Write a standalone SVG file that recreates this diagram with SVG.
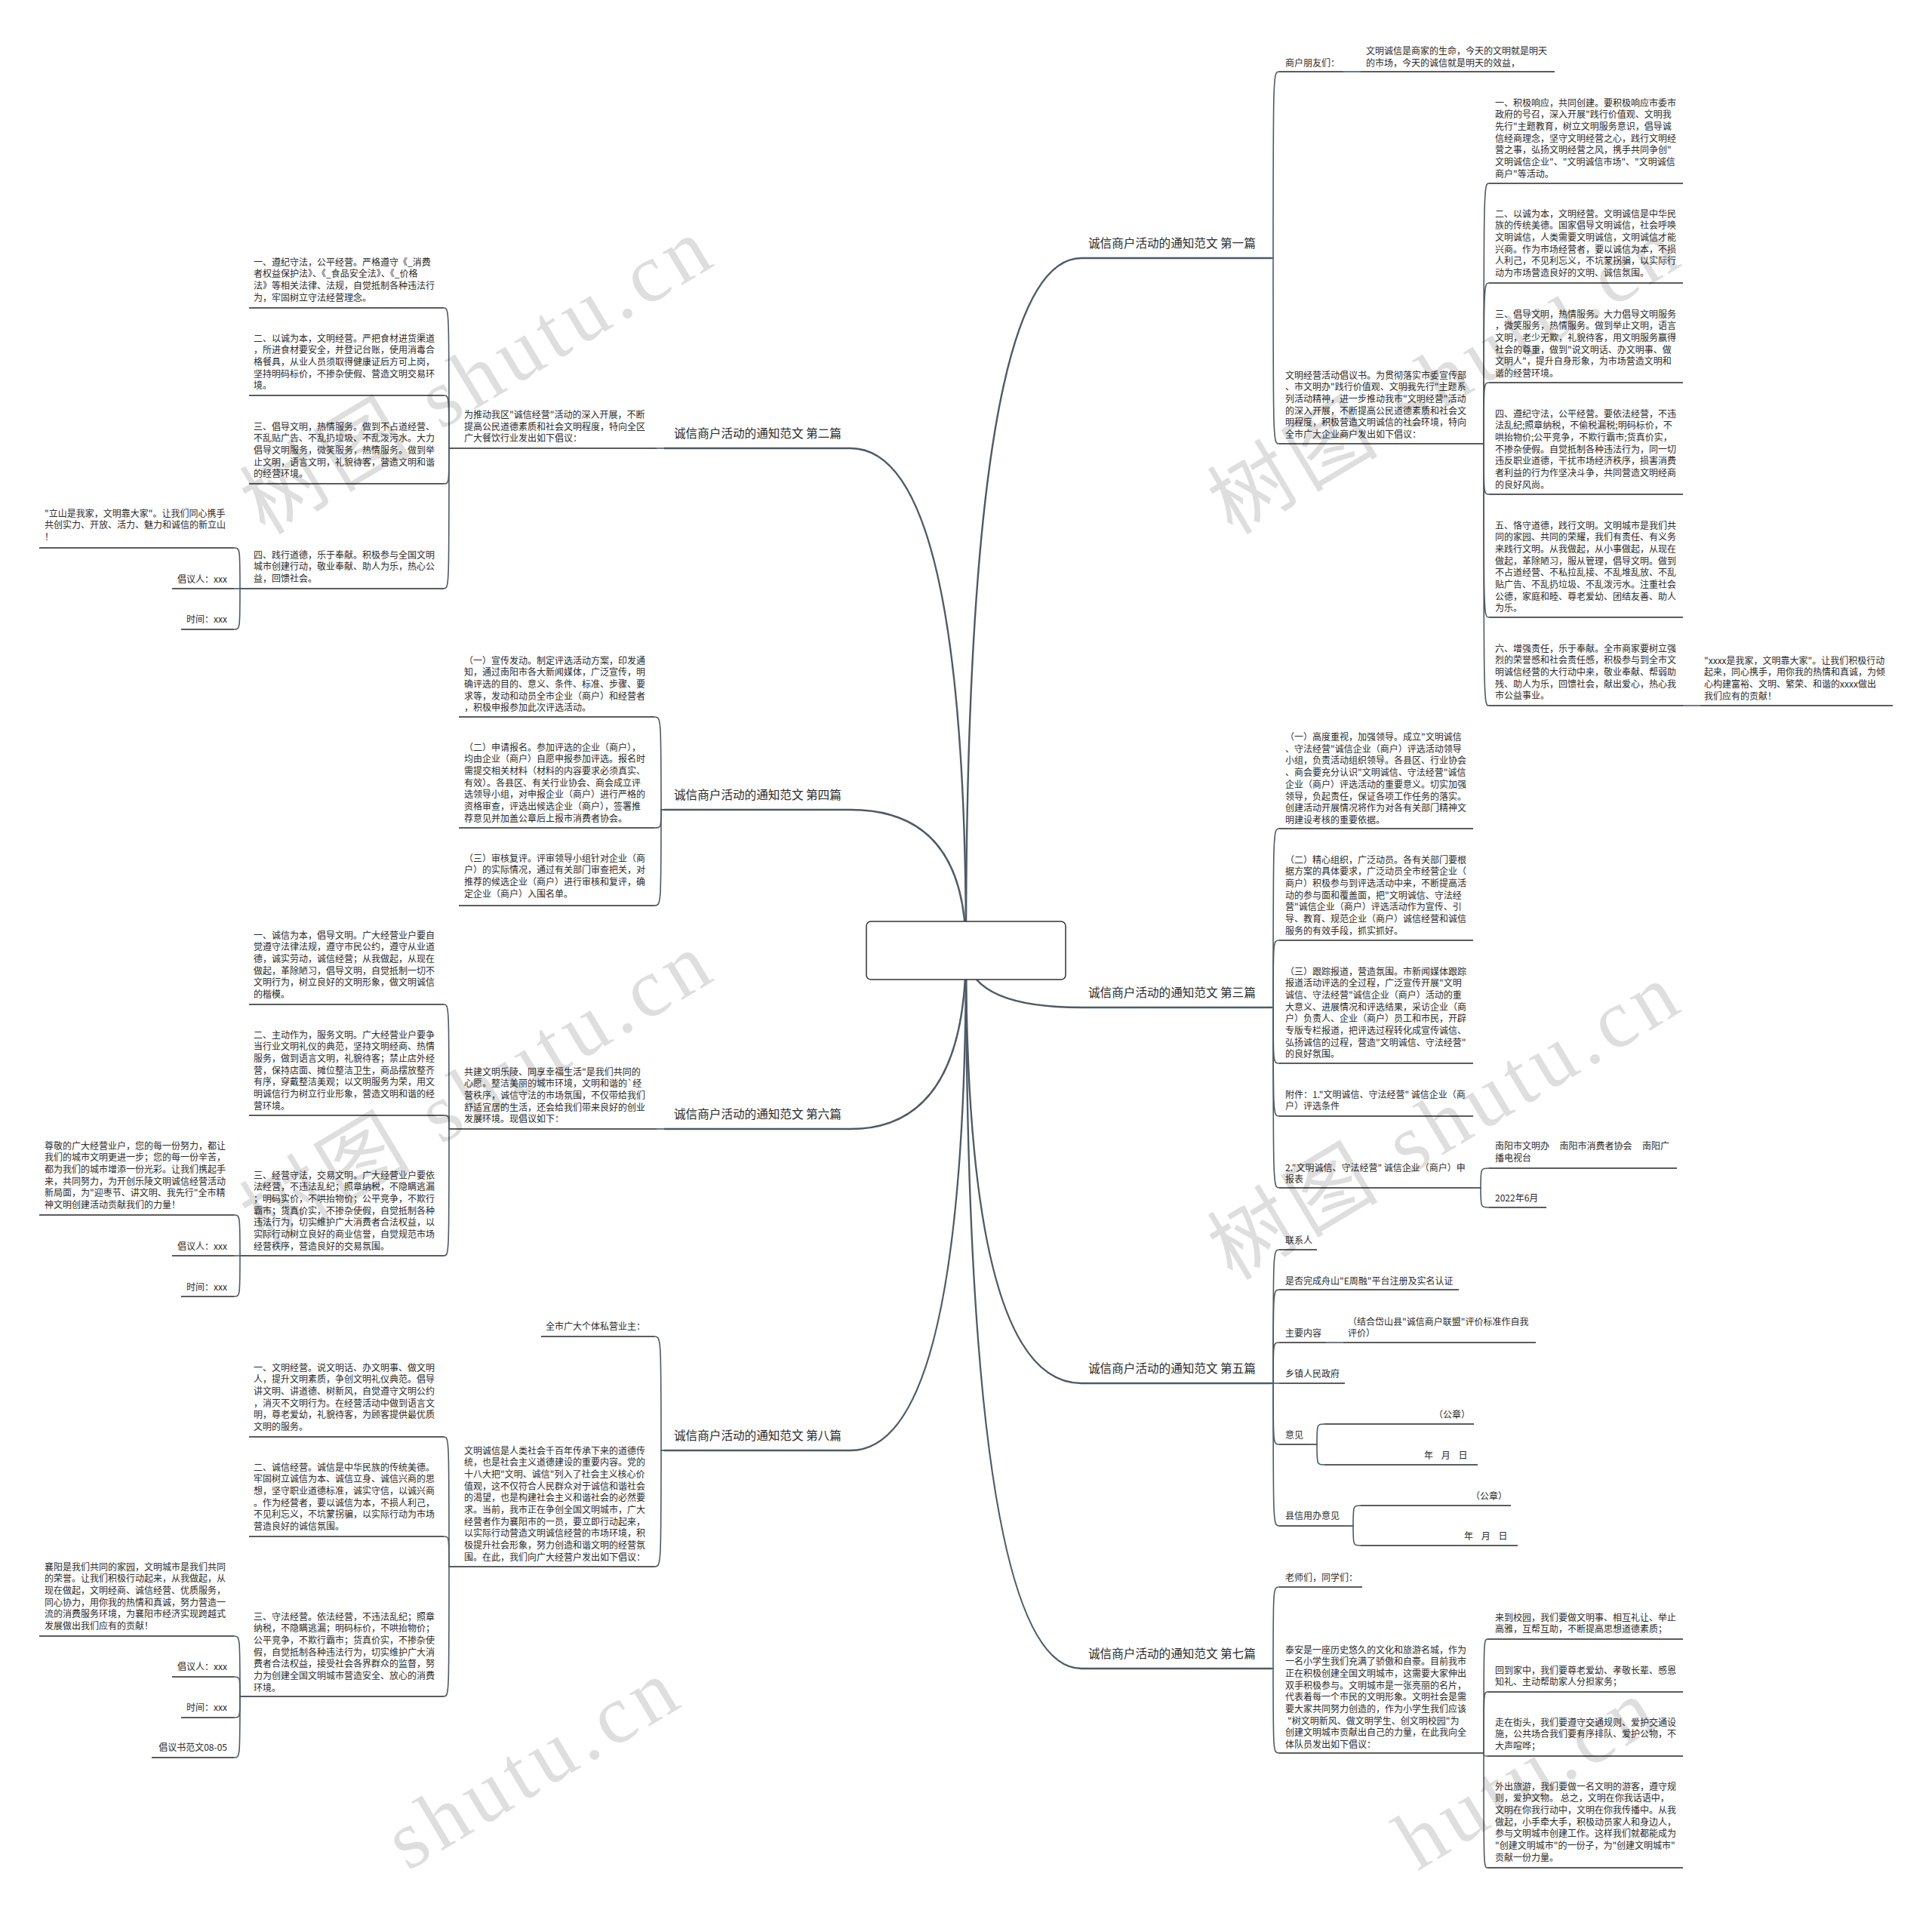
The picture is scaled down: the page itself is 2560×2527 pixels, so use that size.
<svg xmlns="http://www.w3.org/2000/svg" width="2560" height="2527" viewBox="0 0 2560 2527">
<style>
text{font-family:"Noto Sans CJK SC","Noto Sans",sans-serif;}
.t{font-size:12px;fill:#2b2b2b}
.lb{font-size:15.6px;fill:#2b2b2b}
.u{stroke:#262626;stroke-width:1.6;fill:none}
.c{stroke:#4d5b64;stroke-width:1.6;fill:none}
.m{stroke:#4d5b64;stroke-width:2.4;fill:none}
.wm{font-family:"Liberation Serif","Noto Sans CJK SC",serif;font-size:110px;letter-spacing:8px;fill:#000;fill-opacity:0.13}
</style>
<rect width="2560" height="2527" fill="#fff"/>

<g id="connectors">
  <path class="m" d="M1280,1259 Q1280,342 1433,342 H1685"/>
  <path class="m" d="M1280,1259 Q1280,1335 1433,1335 H1685"/>
  <path class="m" d="M1280,1259 Q1280,1833 1433,1833 H1685"/>
  <path class="m" d="M1280,1259 Q1280,2211 1433,2211 H1685"/>
  <path class="m" d="M1280,1259 Q1280,594 1127,594 H880"/>
  <path class="m" d="M1280,1259 Q1280,1073 1127,1073 H880"/>
  <path class="m" d="M1280,1259 Q1280,1496 1127,1496 H880"/>
  <path class="m" d="M1280,1259 Q1280,1922 1127,1922 H880"/>

  <path class="c" d="M1685,342 L1687,342 C1687,95 1687,95 1695,95"/>
  <path class="c" d="M1685,342 L1687,342 C1687,588 1687,588 1695,588"/>
  <path class="c" d="M1780,95 L1803,95"/>
  <path class="c" d="M1963,588 L1966,588 C1966,243 1966,243 1973,243"/>
  <path class="c" d="M1963,588 L1966,588 C1966,375 1966,375 1973,375"/>
  <path class="c" d="M1963,588 L1966,588 C1966,507 1966,507 1973,507"/>
  <path class="c" d="M1963,588 L1966,588 C1966,655 1966,655 1973,655"/>
  <path class="c" d="M1963,588 L1966,588 C1966,818 1966,818 1973,818"/>
  <path class="c" d="M1963,588 L1966,588 C1966,935 1966,935 1973,935"/>
  <path class="c" d="M2230,935 L2253,935"/>

  <path class="c" d="M1685,1335 L1687,1335 C1687,1098 1687,1098 1695,1098"/>
  <path class="c" d="M1685,1335 L1687,1335 C1687,1246 1687,1246 1695,1246"/>
  <path class="c" d="M1685,1335 L1687,1335 C1687,1409 1687,1409 1695,1409"/>
  <path class="c" d="M1685,1335 L1687,1335 C1687,1479 1687,1479 1695,1479"/>
  <path class="c" d="M1685,1335 L1687,1335 C1687,1574 1687,1574 1695,1574"/>
  <path class="c" d="M1952,1574 L1962,1574 C1962,1548 1962,1548 1973,1548"/>
  <path class="c" d="M1952,1574 L1962,1574 C1962,1600 1962,1600 1973,1600"/>

  <path class="c" d="M1685,1833 L1687,1833 C1687,1656 1687,1656 1695,1656"/>
  <path class="c" d="M1685,1833 L1687,1833 C1687,1709 1687,1709 1695,1709"/>
  <path class="c" d="M1685,1833 L1687,1833 C1687,1779 1687,1779 1695,1779"/>
  <path class="c" d="M1685,1833 L1695,1833"/>
  <path class="c" d="M1685,1833 L1687,1833 C1687,1914 1687,1914 1695,1914"/>
  <path class="c" d="M1685,1833 L1687,1833 C1687,2022 1687,2022 1695,2022"/>
  <path class="c" d="M1757,1779 L1780,1779"/>
  <path class="c" d="M1733,1914 L1745,1914 C1745,1887 1745,1887 1755,1887"/>
  <path class="c" d="M1733,1914 L1745,1914 C1745,1941 1745,1941 1755,1941"/>
  <path class="c" d="M1782,2022 L1793,2022 C1793,1995 1793,1995 1803,1995"/>
  <path class="c" d="M1782,2022 L1793,2022 C1793,2048 1793,2048 1803,2048"/>

  <path class="c" d="M1685,2211 L1687,2211 C1687,2103 1687,2103 1695,2103"/>
  <path class="c" d="M1685,2211 L1687,2211 C1687,2323 1687,2323 1695,2323"/>
  <path class="c" d="M1964,2323 L1966,2323 C1966,2172 1966,2172 1971,2172"/>
  <path class="c" d="M1964,2323 L1966,2323 C1966,2242 1966,2242 1971,2242"/>
  <path class="c" d="M1964,2323 L1966,2323 C1966,2327 1966,2327 1971,2327"/>
  <path class="c" d="M1964,2323 L1966,2323 C1966,2475 1966,2475 1971,2475"/>

  <path class="c" d="M880,594 L870,594"/>
  <path class="c" d="M600,594 L595,594 C595,408 595,408 588,408"/>
  <path class="c" d="M600,594 L595,594 C595,524 595,524 588,524"/>
  <path class="c" d="M600,594 L595,594 C595,641 595,641 588,641"/>
  <path class="c" d="M600,594 L595,594 C595,780 595,780 588,780"/>
  <path class="c" d="M330,780 L318,780 C318,726 318,726 310,726"/>
  <path class="c" d="M330,780 L310,780"/>
  <path class="c" d="M330,780 L318,780 C318,834 318,834 310,834"/>

  <path class="c" d="M880,1073 L876,1073 C876,950 876,950 867,950"/>
  <path class="c" d="M880,1073 L876,1073 C876,1097 876,1097 867,1097"/>
  <path class="c" d="M880,1073 L876,1073 C876,1200 876,1200 867,1200"/>

  <path class="c" d="M880,1496 L870,1496"/>
  <path class="c" d="M600,1496 L595,1496 C595,1331 595,1331 588,1331"/>
  <path class="c" d="M600,1496 L595,1496 C595,1478 595,1478 588,1478"/>
  <path class="c" d="M600,1496 L595,1496 C595,1664 595,1664 588,1664"/>
  <path class="c" d="M330,1664 L318,1664 C318,1610 318,1610 310,1610"/>
  <path class="c" d="M330,1664 L310,1664"/>
  <path class="c" d="M330,1664 L318,1664 C318,1718 318,1718 310,1718"/>

  <path class="c" d="M880,1922 L876,1922 C876,1771 876,1771 867,1771"/>
  <path class="c" d="M880,1922 L876,1922 C876,2076 876,2076 867,2076"/>
  <path class="c" d="M600,2076 L595,2076 C595,1904 595,1904 588,1904"/>
  <path class="c" d="M600,2076 L595,2076 C595,2036 595,2036 588,2036"/>
  <path class="c" d="M600,2076 L595,2076 C595,2248 595,2248 588,2248"/>
  <path class="c" d="M330,2248 L318,2248 C318,2168 318,2168 310,2168"/>
  <path class="c" d="M330,2248 L318,2248 C318,2222 318,2222 310,2222"/>
  <path class="c" d="M330,2248 L318,2248 C318,2276 318,2276 310,2276"/>
  <path class="c" d="M330,2248 L318,2248 C318,2329 318,2329 310,2329"/>
</g>

<g id="center">
  <rect x="1148" y="1221" width="264" height="77" rx="6" fill="#fff" stroke="#333" stroke-width="1.5"/>
</g>

<g id="b1"><text class="lb" x="1442" y="328">诚信商户活动的通知范文 第一篇</text></g>
<g id="b3"><text class="lb" x="1442" y="1321">诚信商户活动的通知范文 第三篇</text></g>
<g id="b5"><text class="lb" x="1442" y="1819">诚信商户活动的通知范文 第五篇</text></g>
<g id="b7"><text class="lb" x="1442" y="2197">诚信商户活动的通知范文 第七篇</text></g>
<g id="b2"><text class="lb" x="893" y="580">诚信商户活动的通知范文 第二篇</text></g>
<g id="b4"><text class="lb" x="893" y="1059">诚信商户活动的通知范文 第四篇</text></g>
<g id="b6"><text class="lb" x="893" y="1482">诚信商户活动的通知范文 第六篇</text></g>
<g id="b8"><text class="lb" x="893" y="1908">诚信商户活动的通知范文 第八篇</text></g>

<g id="n1a"><text class="t" x="1703" y="87.5">商户朋友们：</text><path class="u" d="M1695,95 H1780"/></g>
<g id="n1b"><text class="t" x="1810" y="71.5"><tspan x="1810">文明诚信是商家的生命，今天的文明就是明天</tspan><tspan x="1810" dy="16">的市场，今天的诚信就是明天的效益，</tspan></text><path class="u" d="M1803,95 H2060"/></g>
<g id="n1c"><text class="t" x="1703" y="501.5"><tspan x="1703">文明经营活动倡议书。为贯彻落实市委宣传部</tspan><tspan x="1703" dy="15.7">、市文明办"践行价值观、文明我先行"主题系</tspan><tspan x="1703" dy="15.7">列活动精神，进一步推动我市"文明经营"活动</tspan><tspan x="1703" dy="15.7">的深入开展，不断提高公民道德素质和社会文</tspan><tspan x="1703" dy="15.7">明程度，积极营造文明诚信的社会环境，特向</tspan><tspan x="1703" dy="15.7">全市广大企业商户发出如下倡议：</tspan></text><path class="u" d="M1695,588 H1963"/></g>
<g id="n1i1"><text class="t" x="1981" y="140.5"><tspan x="1981">一、积极响应，共同创建。要积极响应市委市</tspan><tspan x="1981" dy="15.7">政府的号召，深入开展"践行价值观、文明我</tspan><tspan x="1981" dy="15.7">先行"主题教育，树立文明服务意识，倡导诚</tspan><tspan x="1981" dy="15.7">信经商理念，坚守文明经营之心，践行文明经</tspan><tspan x="1981" dy="15.7">营之事，弘扬文明经营之风，携手共同争创"</tspan><tspan x="1981" dy="15.7">文明诚信企业"、"文明诚信市场"、"文明诚信</tspan><tspan x="1981" dy="15.7">商户"等活动。</tspan></text><path class="u" d="M1973,243 H2230"/></g>
<g id="n1i2"><text class="t" x="1981" y="287.5"><tspan x="1981">二、以诚为本，文明经营。文明诚信是中华民</tspan><tspan x="1981" dy="15.7">族的传统美德。国家倡导文明诚信，社会呼唤</tspan><tspan x="1981" dy="15.7">文明诚信，人类需要文明诚信，文明诚信才能</tspan><tspan x="1981" dy="15.7">兴商。作为市场经营者，要以诚信为本，不损</tspan><tspan x="1981" dy="15.7">人利己，不见利忘义，不坑蒙拐骗，以实际行</tspan><tspan x="1981" dy="15.7">动为市场营造良好的文明、诚信氛围。</tspan></text><path class="u" d="M1973,375 H2230"/></g>
<g id="n1i3"><text class="t" x="1981" y="420.5"><tspan x="1981">三、倡导文明，热情服务。大力倡导文明服务</tspan><tspan x="1981" dy="15.7">，微笑服务，热情服务。做到举止文明，语言</tspan><tspan x="1981" dy="15.7">文明，老少无欺，礼貌待客，用文明服务赢得</tspan><tspan x="1981" dy="15.7">社会的尊重，做到"说文明话、办文明事、做</tspan><tspan x="1981" dy="15.7">文明人"，提升自身形象，为市场营造文明和</tspan><tspan x="1981" dy="15.7">谐的经营环境。</tspan></text><path class="u" d="M1973,507 H2230"/></g>
<g id="n1i4"><text class="t" x="1981" y="552.5"><tspan x="1981">四、遵纪守法，公平经营。要依法经营，不违</tspan><tspan x="1981" dy="15.7">法乱纪;照章纳税，不偷税漏税;明码标价，不</tspan><tspan x="1981" dy="15.7">哄抬物价;公平竞争，不欺行霸市;货真价实，</tspan><tspan x="1981" dy="15.7">不掺杂使假。自觉抵制各种违法行为，同一切</tspan><tspan x="1981" dy="15.7">违反职业道德，干扰市场经济秩序，损害消费</tspan><tspan x="1981" dy="15.7">者利益的行为作坚决斗争，共同营造文明经商</tspan><tspan x="1981" dy="15.7">的良好风尚。</tspan></text><path class="u" d="M1973,655 H2230"/></g>
<g id="n1i5"><text class="t" x="1981" y="700.5"><tspan x="1981">五、恪守道德，践行文明。文明城市是我们共</tspan><tspan x="1981" dy="15.7">同的家园、共同的荣耀，我们有责任、有义务</tspan><tspan x="1981" dy="15.7">来践行文明。从我做起，从小事做起，从现在</tspan><tspan x="1981" dy="15.7">做起，革除陋习，服从管理，倡导文明。做到</tspan><tspan x="1981" dy="15.7">不占道经营、不私拉乱接、不乱堆乱放、不乱</tspan><tspan x="1981" dy="15.7">贴广告、不乱扔垃圾、不乱泼污水。注重社会</tspan><tspan x="1981" dy="15.7">公德，家庭和睦、尊老爱幼、团结友善、助人</tspan><tspan x="1981" dy="15.7">为乐。</tspan></text><path class="u" d="M1973,818 H2230"/></g>
<g id="n1i6"><text class="t" x="1981" y="863.5"><tspan x="1981">六、增强责任，乐于奉献。全市商家要树立强</tspan><tspan x="1981" dy="15.7">烈的荣誉感和社会责任感，积极参与到全市文</tspan><tspan x="1981" dy="15.7">明诚信经营的大行动中来，敬业奉献、帮弱助</tspan><tspan x="1981" dy="15.7">残、助人为乐，回馈社会，献出爱心，热心我</tspan><tspan x="1981" dy="15.7">市公益事业。</tspan></text><path class="u" d="M1973,935 H2230"/></g>
<g id="n1i6a"><text class="t" x="2258" y="879.5"><tspan x="2258">"xxxx是我家，文明靠大家"。让我们积极行动</tspan><tspan x="2258" dy="15.7">起来，同心携手，用你我的热情和真诚，为倾</tspan><tspan x="2258" dy="15.7">心构建富裕、文明、繁荣、和谐的xxxx做出</tspan><tspan x="2258" dy="15.7">我们应有的贡献！</tspan></text><path class="u" d="M2253,935 H2508"/></g>

<g id="n3a"><text class="t" x="1703" y="981"><tspan x="1703">（一）高度重视，加强领导。成立"文明诚信</tspan><tspan x="1703" dy="15.7">、守法经营"诚信企业（商户）评选活动领导</tspan><tspan x="1703" dy="15.7">小组，负责活动组织领导。各县区、行业协会</tspan><tspan x="1703" dy="15.7">、商会要充分认识"文明诚信、守法经营"诚信</tspan><tspan x="1703" dy="15.7">企业（商户）评选活动的重要意义。切实加强</tspan><tspan x="1703" dy="15.7">领导，负起责任，保证各项工作任务的落实。</tspan><tspan x="1703" dy="15.7">创建活动开展情况将作为对各有关部门精神文</tspan><tspan x="1703" dy="15.7">明建设考核的重要依据。</tspan></text><path class="u" d="M1695,1098 H1952"/></g>
<g id="n3b"><text class="t" x="1703" y="1143.5"><tspan x="1703">（二）精心组织，广泛动员。各有关部门要根</tspan><tspan x="1703" dy="15.7">据方案的具体要求，广泛动员全市经营企业（</tspan><tspan x="1703" dy="15.7">商户）积极参与到评选活动中来，不断提高活</tspan><tspan x="1703" dy="15.7">动的参与面和覆盖面，把"文明诚信、守法经</tspan><tspan x="1703" dy="15.7">营"诚信企业（商户）评选活动作为宣传、引</tspan><tspan x="1703" dy="15.7">导、教育、规范企业（商户）诚信经营和诚信</tspan><tspan x="1703" dy="15.7">服务的有效手段，抓实抓好。</tspan></text><path class="u" d="M1695,1246 H1952"/></g>
<g id="n3c"><text class="t" x="1703" y="1291.5"><tspan x="1703">（三）跟踪报道，营造氛围。市新闻媒体跟踪</tspan><tspan x="1703" dy="15.7">报道活动评选的全过程，广泛宣传开展"文明</tspan><tspan x="1703" dy="15.7">诚信、守法经营"诚信企业（商户）活动的重</tspan><tspan x="1703" dy="15.7">大意义、进展情况和评选结果，采访企业（商</tspan><tspan x="1703" dy="15.7">户）负责人、企业（商户）员工和市民，开辟</tspan><tspan x="1703" dy="15.7">专版专栏报道，把评选过程转化成宣传诚信、</tspan><tspan x="1703" dy="15.7">弘扬诚信的过程，营造"文明诚信、守法经营"</tspan><tspan x="1703" dy="15.7">的良好氛围。</tspan></text><path class="u" d="M1695,1409 H1952"/></g>
<g id="n3d"><text class="t" x="1703" y="1454.5"><tspan x="1703">附件：1."文明诚信、守法经营" 诚信企业（商</tspan><tspan x="1703" dy="15.7">户）评选条件</tspan></text><path class="u" d="M1695,1479 H1952"/></g>
<g id="n3e"><text class="t" x="1703" y="1551.5"><tspan x="1703">2."文明诚信、守法经营" 诚信企业（商户）申</tspan><tspan x="1703" dy="15.7">报表</tspan></text><path class="u" d="M1695,1574 H1952"/></g>
<g id="n3e1"><text class="t" x="1981" y="1523" xml:space="preserve"><tspan x="1981">南阳市文明办     南阳市消费者协会     南阳广</tspan><tspan x="1981" dy="15.7">播电视台</tspan></text><path class="u" d="M1973,1548 H2222"/></g>
<g id="n3e2"><text class="t" x="1981" y="1591.5">2022年6月</text><path class="u" d="M1973,1600 H2049"/></g>

<g id="n5a"><text class="t" x="1703" y="1647.5">联系人</text><path class="u" d="M1695,1656 H1745"/></g>
<g id="n5b"><text class="t" x="1703" y="1701.5">是否完成舟山"E周融"平台注册及实名认证</text><path class="u" d="M1695,1709 H1933"/></g>
<g id="n5c"><text class="t" x="1703" y="1770.5">主要内容</text><path class="u" d="M1695,1779 H1757"/></g>
<g id="n5c1"><text class="t" x="1786" y="1755.5"><tspan x="1786">（结合岱山县"诚信商户联盟"评价标准作自我</tspan><tspan x="1786" dy="15.7">评价）</tspan></text><path class="u" d="M1780,1779 H2035"/></g>
<g id="n5d"><text class="t" x="1703" y="1824.5">乡镇人民政府</text><path class="u" d="M1695,1833 H1782"/></g>
<g id="n5e"><text class="t" x="1703" y="1905.5">意见</text><path class="u" d="M1695,1914 H1733"/></g>
<g id="n5e1"><text class="t" x="1900" y="1878.5">（公章）</text><path class="u" d="M1755,1887 H1953"/></g>
<g id="n5e2"><text class="t" x="1887" y="1932.5" xml:space="preserve">年    月    日</text><path class="u" d="M1755,1941 H1958"/></g>
<g id="n5f"><text class="t" x="1703" y="2012.5">县信用办意见</text><path class="u" d="M1695,2022 H1782"/></g>
<g id="n5f1"><text class="t" x="1949" y="1986.5">（公章）</text><path class="u" d="M1803,1995 H2002"/></g>
<g id="n5f2"><text class="t" x="1940" y="2039.5" xml:space="preserve">年    月    日</text><path class="u" d="M1803,2048 H2011"/></g>

<g id="n7a"><text class="t" x="1703" y="2094.5">老师们，同学们：</text><path class="u" d="M1695,2103 H1805"/></g>
<g id="n7b"><text class="t" x="1703" y="2190.5"><tspan x="1703">泰安是一座历史悠久的文化和旅游名城，作为</tspan><tspan x="1703" dy="15.7">一名小学生我们充满了骄傲和自豪。目前我市</tspan><tspan x="1703" dy="15.7">正在积极创建全国文明城市，这需要大家伸出</tspan><tspan x="1703" dy="15.7">双手积极参与。文明城市是一张亮丽的名片，</tspan><tspan x="1703" dy="15.7">代表着每一个市民的文明形象。文明社会是需</tspan><tspan x="1703" dy="15.7">要大家共同努力创造的，作为小学生我们应该</tspan><tspan x="1706" dy="15.7">"树文明新风、做文明学生、创文明校园"为</tspan><tspan x="1703" dy="15.7">创建文明城市贡献出自己的力量，在此我向全</tspan><tspan x="1703" dy="15.7">体队员发出如下倡议：</tspan></text><path class="u" d="M1695,2323 H1964"/></g>
<g id="n7b1"><text class="t" x="1981" y="2147.5"><tspan x="1981">来到校园，我们要做文明事、相互礼让、举止</tspan><tspan x="1981" dy="15.7">高雅，互帮互助，不断提高思想道德素质；</tspan></text><path class="u" d="M1971,2172 H2230"/></g>
<g id="n7b2"><text class="t" x="1981" y="2217.5"><tspan x="1981">回到家中，我们要尊老爱幼、孝敬长辈、感恩</tspan><tspan x="1981" dy="15.7">知礼、主动帮助家人分担家务；</tspan></text><path class="u" d="M1971,2242 H2230"/></g>
<g id="n7b3"><text class="t" x="1981" y="2286.5"><tspan x="1981">走在街头，我们要遵守交通规则、爱护交通设</tspan><tspan x="1981" dy="15.7">施，公共场合我们要有序排队、爱护公物，不</tspan><tspan x="1981" dy="15.7">大声喧哗；</tspan></text><path class="u" d="M1971,2327 H2230"/></g>
<g id="n7b4"><text class="t" x="1981" y="2371.5"><tspan x="1981">外出旅游，我们要做一名文明的游客，遵守规</tspan><tspan x="1981" dy="15.7">则，爱护文物。 总之，文明在你我话语中，</tspan><tspan x="1981" dy="15.7">文明在你我行动中，文明在你我传播中。从我</tspan><tspan x="1981" dy="15.7">做起，小手牵大手，积极动员家人和身边人，</tspan><tspan x="1981" dy="15.7">参与文明城市创建工作。这样我们就都能成为</tspan><tspan x="1981" dy="15.7">"创建文明城市"的一份子，为"创建文明城市"</tspan><tspan x="1981" dy="15.7">贡献一份力量。</tspan></text><path class="u" d="M1971,2475 H2230"/></g>

<g id="n2a"><text class="t" x="615" y="554"><tspan x="615">为推动我区"诚信经营"活动的深入开展，不断</tspan><tspan x="615" dy="15.7">提高公民道德素质和社会文明程度，特向全区</tspan><tspan x="615" dy="15.7">广大餐饮行业发出如下倡议：</tspan></text><path class="u" d="M600,594 H870"/></g>
<g id="n2i1"><text class="t" x="336" y="351.5"><tspan x="336">一、遵纪守法，公平经营。严格遵守《_消费</tspan><tspan x="336" dy="15.7">者权益保护法》、《_食品安全法》、《_价格</tspan><tspan x="336" dy="15.7">法》等相关法律、法规，自觉抵制各种违法行</tspan><tspan x="336" dy="15.7">为，牢固树立守法经营理念。</tspan></text><path class="u" d="M330,408 H588"/></g>
<g id="n2i2"><text class="t" x="336" y="452.5"><tspan x="336">二、以诚为本，文明经营。严把食材进货渠道</tspan><tspan x="336" dy="15.7">，所进食材要安全，并登记台账，使用消毒合</tspan><tspan x="336" dy="15.7">格餐具，从业人员须取得健康证后方可上岗，</tspan><tspan x="336" dy="15.7">坚持明码标价，不掺杂使假、营造文明交易环</tspan><tspan x="336" dy="15.7">境。</tspan></text><path class="u" d="M330,524 H588"/></g>
<g id="n2i3"><text class="t" x="336" y="569.5"><tspan x="336">三、倡导文明，热情服务。做到不占道经营、</tspan><tspan x="336" dy="15.7">不乱贴广告、不乱扔垃圾、不乱泼污水。大力</tspan><tspan x="336" dy="15.7">倡导文明服务，微笑服务，热情服务。做到举</tspan><tspan x="336" dy="15.7">止文明，语言文明，礼貌待客，营造文明和谐</tspan><tspan x="336" dy="15.7">的经营环境。</tspan></text><path class="u" d="M330,641 H588"/></g>
<g id="n2i4"><text class="t" x="336" y="739.5"><tspan x="336">四、践行道德，乐于奉献。积极参与全国文明</tspan><tspan x="336" dy="15.7">城市创建行动，敬业奉献、助人为乐，热心公</tspan><tspan x="336" dy="15.7">益，回馈社会。</tspan></text><path class="u" d="M330,780 H588"/></g>
<g id="n2l1"><text class="t" x="59" y="684.5"><tspan x="59">"立山是我家，文明靠大家"。让我们同心携手</tspan><tspan x="59" dy="15.7">共创实力、开放、活力、魅力和诚信的新立山</tspan><tspan x="59" dy="15.7">！</tspan></text><path class="u" d="M52,726 H310"/></g>
<g id="n2l2"><text class="t" x="301" y="771.5" text-anchor="end">倡议人：xxx</text><path class="u" d="M228,780 H310"/></g>
<g id="n2l3"><text class="t" x="301" y="824.5" text-anchor="end">时间：xxx</text><path class="u" d="M240,834 H310"/></g>

<g id="n4a"><text class="t" x="615" y="879.5"><tspan x="615">（一）宣传发动。制定评选活动方案，印发通</tspan><tspan x="615" dy="15.7">知，通过南阳市各大新闻媒体，广泛宣传，明</tspan><tspan x="615" dy="15.7">确评选的目的、意义、条件、标准、步骤、要</tspan><tspan x="615" dy="15.7">求等，发动和动员全市企业（商户）和经营者</tspan><tspan x="615" dy="15.7">，积极申报参加此次评选活动。</tspan></text><path class="u" d="M608,950 H867"/></g>
<g id="n4b"><text class="t" x="615" y="994.5"><tspan x="615">（二）申请报名。参加评选的企业（商户），</tspan><tspan x="615" dy="15.7">均由企业（商户）自愿申报参加评选。报名时</tspan><tspan x="615" dy="15.7">需提交相关材料（材料的内容要求必须真实、</tspan><tspan x="615" dy="15.7">有效）。各县区、有关行业协会、商会成立评</tspan><tspan x="615" dy="15.7">选领导小组，对申报企业（商户）进行严格的</tspan><tspan x="615" dy="15.7">资格审查，评选出候选企业（商户），签署推</tspan><tspan x="615" dy="15.7">荐意见并加盖公章后上报市消费者协会。</tspan></text><path class="u" d="M608,1097 H867"/></g>
<g id="n4c"><text class="t" x="615" y="1141.5"><tspan x="615">（三）审核复评。评审领导小组针对企业（商</tspan><tspan x="615" dy="15.7">户）的实际情况，通过有关部门审查把关，对</tspan><tspan x="615" dy="15.7">推荐的候选企业（商户）进行审核和复评，确</tspan><tspan x="615" dy="15.7">定企业（商户）入围名单。</tspan></text><path class="u" d="M608,1200 H867"/></g>

<g id="n6a"><text class="t" x="615" y="1424.5"><tspan x="615">共建文明乐陵、同享幸福生活"是我们共同的</tspan><tspan x="615" dy="15.7">心愿。整洁美丽的城市环境，文明和谐的`经</tspan><tspan x="615" dy="15.7">营秩序，诚信守法的市场氛围，不仅带给我们</tspan><tspan x="615" dy="15.7">舒适宜居的生活，还会给我们带来良好的创业</tspan><tspan x="615" dy="15.7">发展环境。现倡议如下：</tspan></text><path class="u" d="M600,1496 H870"/></g>
<g id="n6i1"><text class="t" x="336" y="1243.5"><tspan x="336">一、诚信为本，倡导文明。广大经营业户要自</tspan><tspan x="336" dy="15.7">觉遵守法律法规，遵守市民公约，遵守从业道</tspan><tspan x="336" dy="15.7">德，诚实劳动，诚信经营；从我做起，从现在</tspan><tspan x="336" dy="15.7">做起，革除陋习，倡导文明，自觉抵制一切不</tspan><tspan x="336" dy="15.7">文明行为，树立良好的文明形象，做文明诚信</tspan><tspan x="336" dy="15.7">的楷模。</tspan></text><path class="u" d="M330,1331 H588"/></g>
<g id="n6i2"><text class="t" x="336" y="1375.5"><tspan x="336">二、主动作为，服务文明。广大经营业户要争</tspan><tspan x="336" dy="15.7">当行业文明礼仪的典范，坚持文明经商、热情</tspan><tspan x="336" dy="15.7">服务，做到语言文明，礼貌待客；禁止店外经</tspan><tspan x="336" dy="15.7">营，保持店面、摊位整洁卫生，商品摆放整齐</tspan><tspan x="336" dy="15.7">有序，穿戴整洁美观；以文明服务为荣，用文</tspan><tspan x="336" dy="15.7">明诚信行为树立行业形象，营造文明和谐的经</tspan><tspan x="336" dy="15.7">营环境。</tspan></text><path class="u" d="M330,1478 H588"/></g>
<g id="n6i3"><text class="t" x="336" y="1561.5"><tspan x="336">三、经营守法，交易文明。广大经营业户要依</tspan><tspan x="336" dy="15.7">法经营，不违法乱纪；照章纳税，不隐瞒逃漏</tspan><tspan x="336" dy="15.7">；明码实价，不哄抬物价；公平竞争，不欺行</tspan><tspan x="336" dy="15.7">霸市；货真价实，不掺杂使假，自觉抵制各种</tspan><tspan x="336" dy="15.7">违法行为，切实维护广大消费者合法权益，以</tspan><tspan x="336" dy="15.7">实际行动树立良好的商业信誉，自觉规范市场</tspan><tspan x="336" dy="15.7">经营秩序，营造良好的交易氛围。</tspan></text><path class="u" d="M330,1664 H588"/></g>
<g id="n6l1"><text class="t" x="59" y="1522.5"><tspan x="59">尊敬的广大经营业户，您的每一份努力，都让</tspan><tspan x="59" dy="15.7">我们的城市文明更进一步；您的每一份辛苦，</tspan><tspan x="59" dy="15.7">都为我们的城市增添一份光彩。让我们携起手</tspan><tspan x="59" dy="15.7">来，共同努力，为开创乐陵文明诚信经营活动</tspan><tspan x="59" dy="15.7">新局面，为"迎枣节、讲文明、我先行"全市精</tspan><tspan x="59" dy="15.7">神文明创建活动贡献我们的力量！</tspan></text><path class="u" d="M52,1610 H310"/></g>
<g id="n6l2"><text class="t" x="301" y="1655.5" text-anchor="end">倡议人：xxx</text><path class="u" d="M228,1664 H310"/></g>
<g id="n6l3"><text class="t" x="301" y="1709.5" text-anchor="end">时间：xxx</text><path class="u" d="M240,1718 H310"/></g>

<g id="n8a"><text class="t" x="723" y="1761.5">全市广大个体私营业主：</text><path class="u" d="M717,1771 H867"/></g>
<g id="n8b"><text class="t" x="615" y="1926.5"><tspan x="615">文明诚信是人类社会千百年传承下来的道德传</tspan><tspan x="615" dy="15.7">统，也是社会主义道德建设的重要内容。党的</tspan><tspan x="615" dy="15.7">十八大把"文明、诚信"列入了社会主义核心价</tspan><tspan x="615" dy="15.7">值观，这不仅符合人民群众对于诚信和谐社会</tspan><tspan x="615" dy="15.7">的渴望，也是构建社会主义和谐社会的必然要</tspan><tspan x="615" dy="15.7">求。当前，我市正在争创全国文明城市，广大</tspan><tspan x="615" dy="15.7">经营者作为襄阳市的一员，要立即行动起来，</tspan><tspan x="615" dy="15.7">以实际行动营造文明诚信经营的市场环境，积</tspan><tspan x="615" dy="15.7">极提升社会形象，努力创造和谐文明的经营氛</tspan><tspan x="615" dy="15.7">围。在此，我们向广大经营户发出如下倡议：</tspan></text><path class="u" d="M600,2076 H867"/></g>
<g id="n8i1"><text class="t" x="336" y="1816.5"><tspan x="336">一、文明经营。说文明话、办文明事、做文明</tspan><tspan x="336" dy="15.7">人，提升文明素质，争创文明礼仪典范。倡导</tspan><tspan x="336" dy="15.7">讲文明、讲道德、树新风，自觉遵守文明公约</tspan><tspan x="336" dy="15.7">，消灭不文明行为。在经营活动中做到语言文</tspan><tspan x="336" dy="15.7">明，尊老爱幼，礼貌待客，为顾客提供最优质</tspan><tspan x="336" dy="15.7">文明的服务。</tspan></text><path class="u" d="M330,1904 H588"/></g>
<g id="n8i2"><text class="t" x="336" y="1948.5"><tspan x="336">二、诚信经营。诚信是中华民族的传统美德。</tspan><tspan x="336" dy="15.7">牢固树立诚信为本、诚信立身、诚信兴商的思</tspan><tspan x="336" dy="15.7">想，坚守职业道德标准，诚实守信，以诚兴商</tspan><tspan x="336" dy="15.7">。作为经营者，要以诚信为本，不损人利己，</tspan><tspan x="336" dy="15.7">不见利忘义，不坑蒙拐骗，以实际行动为市场</tspan><tspan x="336" dy="15.7">营造良好的诚信氛围。</tspan></text><path class="u" d="M330,2036 H588"/></g>
<g id="n8i3"><text class="t" x="336" y="2146.5"><tspan x="336">三、守法经营。依法经营，不违法乱纪；照章</tspan><tspan x="336" dy="15.7">纳税，不隐瞒逃漏；明码标价，不哄抬物价；</tspan><tspan x="336" dy="15.7">公平竞争，不欺行霸市；货真价实，不掺杂使</tspan><tspan x="336" dy="15.7">假，自觉抵制各种违法行为，切实维护广大消</tspan><tspan x="336" dy="15.7">费者合法权益，接受社会各界群众的监督，努</tspan><tspan x="336" dy="15.7">力为创建全国文明城市营造安全、放心的消费</tspan><tspan x="336" dy="15.7">环境。</tspan></text><path class="u" d="M330,2248 H588"/></g>
<g id="n8l1"><text class="t" x="59" y="2080.5"><tspan x="59">襄阳是我们共同的家园，文明城市是我们共同</tspan><tspan x="59" dy="15.7">的荣誉。让我们积极行动起来，从我做起，从</tspan><tspan x="59" dy="15.7">现在做起，文明经商、诚信经营、优质服务，</tspan><tspan x="59" dy="15.7">同心协力，用你我的热情和真诚，努力营造一</tspan><tspan x="59" dy="15.7">流的消费服务环境，为襄阳市经济实现跨越式</tspan><tspan x="59" dy="15.7">发展做出我们应有的贡献！</tspan></text><path class="u" d="M52,2168 H310"/></g>
<g id="n8l2"><text class="t" x="301" y="2212.5" text-anchor="end">倡议人：xxx</text><path class="u" d="M228,2222 H310"/></g>
<g id="n8l3"><text class="t" x="301" y="2266.5" text-anchor="end">时间：xxx</text><path class="u" d="M240,2276 H310"/></g>
<g id="n8l4"><text class="t" x="301" y="2319.5" text-anchor="end">倡议书范文08-05</text><path class="u" d="M201,2329 H310"/></g>

<g id="watermarks">
  <text class="wm" x="351" y="710" transform="rotate(-31 351 710)">树图 shutu.cn</text>
  <text class="wm" x="1633" y="710" transform="rotate(-31 1633 710)">树图 shutu.cn</text>
  <text class="wm" x="351" y="1657" transform="rotate(-31 351 1657)">树图 shutu.cn</text>
  <text class="wm" x="1633" y="1698" transform="rotate(-31 1633 1698)">树图 shutu.cn</text>
  <text class="wm" x="540" y="2480" transform="rotate(-31 540 2480)">shutu.cn</text>
  <text class="wm" x="1878" y="2480" transform="rotate(-31 1878 2480)">hutu.cn</text>
</g>
</svg>
